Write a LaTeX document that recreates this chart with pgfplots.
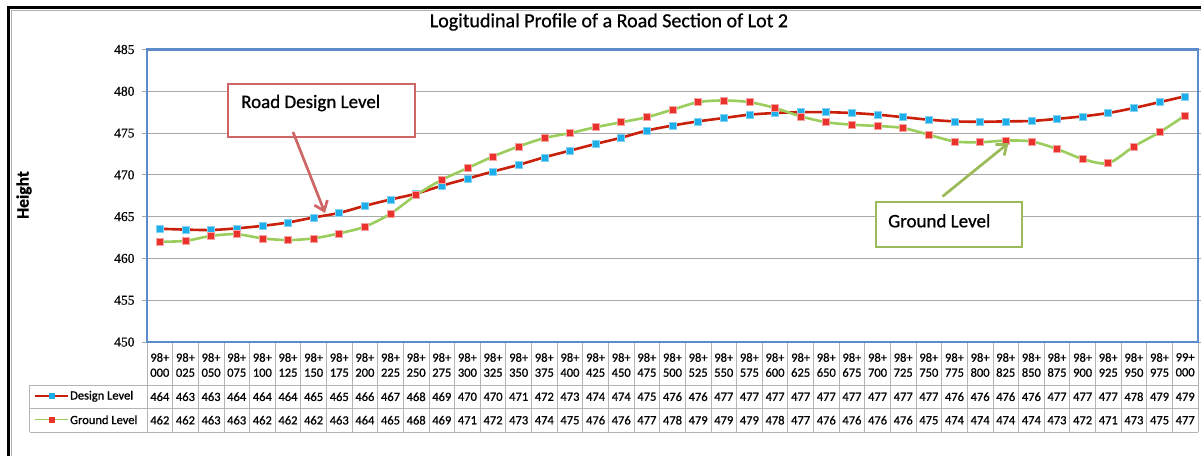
\documentclass[border=0pt]{standalone}
\usepackage{pgfplots}
\pgfplotsset{compat=1.18}
\usepackage{pgfplotstable}
\usetikzlibrary{arrows.meta}
\usepackage{fontspec}
\setmainfont{Carlito}[RawFeature={embolden=0.8}]
\newfontfamily\tickfont{Liberation Serif}[RawFeature={embolden=0.6}]
\definecolor{designred}{HTML}{C8200A}
\definecolor{designmark}{HTML}{1DAEEA}
\definecolor{groundgreen}{HTML}{9BCD5C}
\definecolor{groundmark}{HTML}{E8322B}
\definecolor{plotblue}{HTML}{5B8BC9}
\definecolor{gridgray}{HTML}{A8A8A8}
\definecolor{tablegray}{HTML}{B4B4B4}
\definecolor{boxred}{HTML}{CD6664}
\definecolor{boxgreen}{HTML}{9BBB59}

\pgfplotstableread{
i design ground
0 463.55 462.0
1 463.45 462.1
2 463.4 462.7
3 463.6 462.9
4 463.9 462.4
5 464.3 462.2
6 464.9 462.4
7 465.45 463.0
8 466.3 463.8
9 467.05 465.35
10 467.75 467.6
11 468.7 469.4
12 469.55 470.8
13 470.4 472.2
14 471.2 473.4
15 472.1 474.4
16 472.9 475.0
17 473.7 475.7
18 474.45 476.3
19 475.3 476.9
20 475.9 477.8
21 476.4 478.7
22 476.8 478.9
23 477.2 478.7
24 477.4 478.0
25 477.5 477.0
26 477.5 476.3
27 477.4 476.0
28 477.2 475.85
29 476.9 475.6
30 476.6 474.8
31 476.4 474.0
32 476.35 473.9
33 476.4 474.1
34 476.45 474.0
35 476.7 473.1
36 477.0 471.9
37 477.4 471.4
38 478.0 473.4
39 478.7 475.1
40 479.4 477.1
}\data

\begin{document}
\begin{tikzpicture}
\path[use as bounding box] (0pt,0pt) rectangle (1201pt,456pt);
\fill[white] (0pt,0pt) rectangle (1201pt,456pt);
\draw[black, line width=3pt] (8.5pt,0pt) -- (8.5pt,448pt) -- (1201pt,448pt);
\draw[gray!60, line width=0.6pt] (11pt,0pt) -- (11pt,445.5pt) -- (1201pt,445.5pt);

\node[font=\fontsize{20}{21}\selectfont] at (609pt,434pt) {Logitudinal Profile of a Road Section of Lot 2};
\node[rotate=90, font=\bfseries\fontsize{17.5}{18}\selectfont] at (24pt,261pt) {Height};

\begin{axis}[
  at={(147pt,114pt)}, anchor=south west,
  scale only axis, width=1051pt, height=292.5pt,
  xmin=-0.5, xmax=40.5, ymin=450, ymax=485,
  ytick={450,455,...,485},
  xtick={0,...,40},
  xticklabels={{98+\\000},{98+\\025},{98+\\050},{98+\\075},{98+\\100},{98+\\125},{98+\\150},{98+\\175},{98+\\200},{98+\\225},{98+\\250},{98+\\275},{98+\\300},{98+\\325},{98+\\350},{98+\\375},{98+\\400},{98+\\425},{98+\\450},{98+\\475},{98+\\500},{98+\\525},{98+\\550},{98+\\575},{98+\\600},{98+\\625},{98+\\650},{98+\\675},{98+\\700},{98+\\725},{98+\\750},{98+\\775},{98+\\800},{98+\\825},{98+\\850},{98+\\875},{98+\\900},{98+\\925},{98+\\950},{98+\\975},{99+\\000}},
  xticklabel style={font=\fontsize{12.5}{15}\selectfont, align=center, anchor=north, inner sep=0pt, yshift=-6pt},
  xtick style={draw=none},
  ytick style={gridgray, line width=0.8pt},
  tick align=outside, major tick length=5pt,
  yticklabel style={font=\tickfont\fontsize{13.5}{14}\selectfont, xshift=-4pt},
  /pgf/number format/assume math mode=true,
  ymajorgrids, grid style={gridgray, line width=0.8pt},
  axis line style={plotblue, line width=2.5pt},
  clip=false,
]
\addplot[designred, line width=2.6pt, smooth, tension=0.5, mark=square*, mark size=3.5pt,
  mark options={fill=designmark, draw=designmark!55!white, line width=0.6pt, solid}]
  table[x=i, y=design]{\data};
\addplot[groundgreen, line width=2.6pt, smooth, tension=0.5, mark=square*, mark size=3.5pt,
  mark options={fill=groundmark, draw=groundmark!45!white, line width=0.6pt, solid}]
  table[x=i, y=ground]{\data};
\end{axis}

% data table below the axis
\begin{scope}[tablegray, line width=0.8pt]
\draw (29.5pt,71pt) -- (1198pt,71pt);
\draw (29.5pt,47.5pt) -- (1198pt,47.5pt);
\draw (29.5pt,24pt) -- (1198pt,24pt);
\draw (29.5pt,71pt) -- (29.5pt,24pt);
\foreach \k in {0,...,41} \draw ({(147+\k*25.634)*1pt},113pt) -- ({(147+\k*25.634)*1pt},24pt);
\end{scope}
\foreach \d [count=\n from 0] in {464,463,463,464,464,464,465,465,466,467,468,469,470,470,471,472,473,474,474,475,476,476,477,477,477,477,477,477,477,477,477,476,476,476,476,477,477,477,478,479,479}
  \node[font=\fontsize{12.5}{13}\selectfont] at ({(147+(\n+0.5)*25.634)*1pt},59.25pt) {\d};
\foreach \d [count=\n from 0] in {462,462,463,463,462,462,462,463,464,465,468,469,471,472,473,474,475,476,476,477,478,479,479,479,478,477,476,476,476,476,475,474,474,474,474,473,472,471,473,475,477}
  \node[font=\fontsize{12.5}{13}\selectfont] at ({(147+(\n+0.5)*25.634)*1pt},35.75pt) {\d};
% legend keys in table
\draw[designred, line width=1.4pt] (35pt,60pt) -- (68pt,60pt);
\fill[designmark] (48.5pt,57pt) rectangle (54.5pt,63pt);
\node[anchor=west, inner sep=0pt, font=\fontsize{12.5}{13}\selectfont] at (70pt,59.75pt) {Design Level};
\draw[groundgreen, line width=1.4pt] (35pt,36.5pt) -- (68pt,36.5pt);
\fill[groundmark] (48.5pt,33.5pt) rectangle (54.5pt,39.5pt);
\node[anchor=west, inner sep=0pt, font=\fontsize{12.5}{13}\selectfont] at (70pt,36.25pt) {Ground Level};

% annotations
\draw[boxred, line width=2.7pt, fill=white] (228pt,319pt) rectangle (415pt,372pt);
\node[anchor=base west, inner sep=0pt, font=\fontsize{19}{20}\selectfont] at (241pt,348pt) {Road Design Level};
\draw[boxred, line width=2.7pt, -{Straight Barb[length=9pt, width=14pt, line width=2.7pt]}] (293pt,324pt) -- (325pt,243pt);
\draw[boxgreen, line width=2.7pt, fill=white] (876pt,209pt) rectangle (1022pt,254pt);
\node[anchor=base west, inner sep=0pt, font=\fontsize{19}{20}\selectfont] at (888pt,228.7pt) {Ground Level};
\draw[boxgreen, line width=2.7pt, -{Straight Barb[length=9pt, width=14pt, line width=2.7pt]}] (942.5pt,259.5pt) -- (1008.5pt,313pt);
\end{tikzpicture}
\end{document}
